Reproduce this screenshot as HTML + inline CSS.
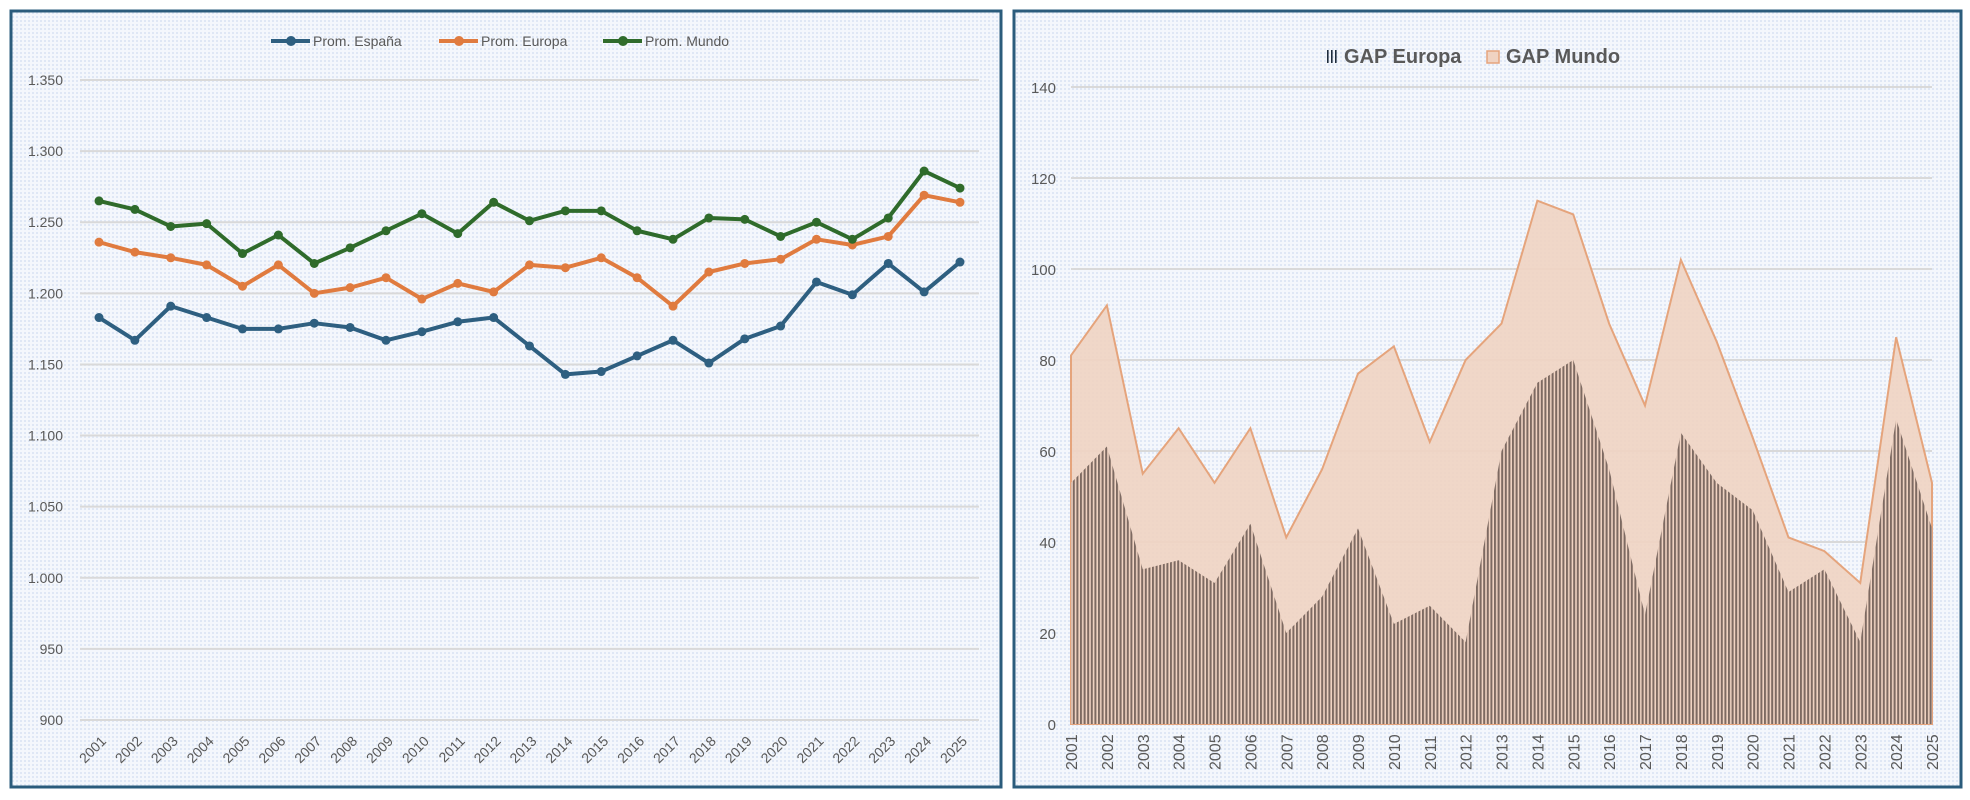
<!DOCTYPE html>
<html><head><meta charset="utf-8"><style>
html,body{margin:0;padding:0;background:#fff;}
svg{display:block;font-family:"Liberation Sans",sans-serif;}
</style></head><body>
<svg id="svg" width="1970" height="800" xmlns="http://www.w3.org/2000/svg">
<defs>
<pattern id="dots" width="4" height="4" patternUnits="userSpaceOnUse"><rect width="4" height="4" fill="#f4f7fc"/><rect width="2" height="2" fill="#dfe7f5"/></pattern>
<pattern id="stripes" width="3.6" height="10" patternUnits="userSpaceOnUse"><rect width="3.6" height="10" fill="#f0d3c2"/><rect width="2" height="10" fill="#7d6a62"/></pattern>
</defs>
<rect x="11" y="11" width="990" height="776" fill="url(#dots)" stroke="#2b5c7c" stroke-width="3"/>
<rect x="1014" y="11" width="947" height="776" fill="url(#dots)" stroke="#2b5c7c" stroke-width="3"/>
<g id="left"></g>
<g id="right"></g>
</svg>
<script>
const years=['2001','2002','2003','2004','2005','2006','2007','2008','2009','2010','2011','2012','2013','2014','2015','2016','2017','2018','2019','2020','2021','2022','2023','2024','2025'];
const espana=[1183,1167,1191,1183,1175,1175,1179,1176,1167,1173,1180,1183,1163,1143,1145,1156,1167,1151,1168,1177,1208,1199,1221,1201,1222];
const europa=[1236,1229,1225,1220,1205,1220,1200,1204,1211,1196,1207,1201,1220,1218,1225,1211,1191,1215,1221,1224,1238,1234,1240,1269,1264];
const mundo=[1265,1259,1247,1249,1228,1241,1221,1232,1244,1256,1242,1264,1251,1258,1258,1244,1238,1253,1252,1240,1250,1238,1253,1286,1274];
const leftTicks=[900,950,1000,1050,1100,1150,1200,1250,1300,1350];
const gapEuropa=[53,61,34,36,31,44,20,28,43,22,26,18,60,75,80,56,24,64,53,47,29,34,18,67,43];
const gapMundo=[81,92,55,65,53,65,41,56,77,83,62,80,88,115,112,88,70,102,84,63,41,38,31,85,53];
const rightTicks=[0,20,40,60,80,100,120,140];
const NS='http://www.w3.org/2000/svg';
function mk(p,tag,attrs,txt){const e=document.createElementNS(NS,tag);for(const k in attrs)e.setAttribute(k,attrs[k]);if(txt!==undefined)e.textContent=txt;p.appendChild(e);return e;}
const fmt=v=>v>=1000?Math.floor(v/1000)+'.'+String(v%1000).padStart(3,'0'):String(v);
// LEFT
const L=document.getElementById('left');
const lx=i=>99+i*(960-99)/24;
const ly=v=>720-(v-900)*(720-80)/450;
leftTicks.forEach(t=>{
 const g=mk(L,'line',{x1:80,x2:979,y1:ly(t),y2:ly(t),stroke:'#d9d9d9','stroke-width':2});
 
 
 const tx=mk(L,'text',{x:63,y:ly(t)+5,'text-anchor':'end','font-size':14,fill:'#595959'},fmt(t));
 
 
});
years.forEach((y,i)=>{
 const tx=mk(L,'text',{transform:`translate(${lx(i)+8},${742}) rotate(-45)`,'text-anchor':'end','font-size':14,fill:'#595959'},y);
 
 
});
const series=[['espana',espana,'#2e5f80','Prom. España',271],['europa',europa,'#e07b3f','Prom. Europa',439],['mundo',mundo,'#2f6b2b','Prom. Mundo',603]];
series.forEach(([n,d,c,label,lxp])=>{
 const pl=mk(L,'polyline',{points:d.map((v,i)=>lx(i)+','+ly(v)).join(' '),fill:'none',stroke:c,'stroke-width':4,'stroke-linejoin':'round'});
 
 
 d.forEach((v,i)=>{const m=mk(L,'circle',{cx:lx(i),cy:ly(v),r:4.5,fill:c});
  
  });
 const lg=mk(L,'g',{});
 
 
 mk(lg,'line',{x1:lxp,x2:lxp+39,y1:41,y2:41,stroke:c,'stroke-width':4});
 mk(lg,'circle',{cx:lxp+20,cy:41,r:5,fill:c});
 mk(lg,'text',{x:lxp+42,y:46,'font-size':14,fill:'#595959'},label);
});
// RIGHT
const R=document.getElementById('right');
const rx=i=>1071+i*(1932-1071)/24;
const ry=v=>724-v*(724-87)/140;
rightTicks.forEach(t=>{
 const g=mk(R,'line',{x1:1071,x2:1932,y1:ry(t),y2:ry(t),stroke:'#d9d9d9','stroke-width':2});
 
 
 const tx=mk(R,'text',{x:1056,y:ry(t)+6,'text-anchor':'end','font-size':15,fill:'#595959'},t);
 
 
});
const mp='M'+rx(0)+','+ry(0)+' '+gapMundo.map((v,i)=>'L'+rx(i)+','+ry(v)).join(' ')+' L'+rx(24)+','+ry(0)+'Z';
const am=mk(R,'path',{d:mp,fill:'#f0d3c2','fill-opacity':0.9,stroke:'#e5a47c','stroke-width':2});


const ep='M'+rx(0)+','+ry(0)+' '+gapEuropa.map((v,i)=>'L'+rx(i)+','+ry(v)).join(' ')+' L'+rx(24)+','+ry(0)+'Z';
const ae=mk(R,'path',{d:ep,fill:'url(#stripes)'});


years.forEach((y,i)=>{
 const tx=mk(R,'text',{transform:`translate(${rx(i)+6},${770}) rotate(-90)`,'text-anchor':'start','font-size':16,fill:'#595959'},y);
 
 
});
const le=mk(R,'g',{});


[1327,1331,1335].forEach(x=>mk(le,'rect',{x:x,y:50,width:1.6,height:13,fill:'#1f2d3d'}));
mk(le,'text',{x:1344,y:63,'font-size':20,'font-weight':'bold',fill:'#595959'},'GAP Europa');
const lm=mk(R,'g',{});


mk(lm,'rect',{x:1487,y:51,width:12,height:12,fill:'#f0d3c2',stroke:'#e5a47c','stroke-width':1.5});
mk(lm,'text',{x:1506,y:63,'font-size':20,'font-weight':'bold',fill:'#595959'},'GAP Mundo');
</script>
</body></html>
